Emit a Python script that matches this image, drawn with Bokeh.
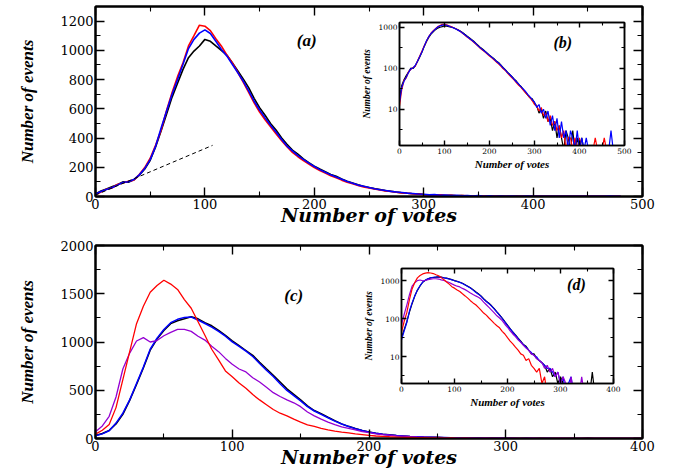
from bokeh.plotting import figure
from bokeh.models import (Range1d, LinearAxis, LogAxis, FixedTicker, Label, GridBox, Column,
                          CustomLabelingPolicy)
from bokeh.embed import file_html
from bokeh.resources import INLINE

# ---------------- data: panel (a)/(b) ----------------
votes_a = list(range(0, 485, 5))
blue_a = [15, 34, 48, 60, 78, 96, 101, 116, 148, 192, 252, 345, 468, 585, 700, 800, 905, 1012, 1075, 1118,
          1140, 1115, 1062, 1008, 962, 905, 848, 790, 722, 652, 592, 538, 488, 442, 392, 345, 312, 280, 254, 228,
          205, 184, 166, 148, 134, 118, 102, 91, 78, 70, 61, 53, 46, 41, 35, 31, 27, 23, 20, 17,
          15, 11, 13, 8, 10, 6, 9, 4, 7, 3, 6, 2, 5, 2, 3, 1, 3, 2, 1, 3,
          1, 2, 1, 2, 1, 1, 1, 1, 1, 1, 1, 1, 1, 1, 3, 1, 1]
red_a = [12, 30, 50, 58, 82, 92, 104, 112, 150, 198, 262, 352, 455, 590, 712, 820, 915, 1030, 1100, 1172,
         1165, 1135, 1080, 1030, 968, 915, 850, 782, 712, 640, 578, 525, 478, 430, 384, 340, 302, 272, 246, 222,
         198, 178, 160, 142, 128, 112, 98, 88, 76, 66, 58, 51, 44, 38, 34, 29, 25, 22, 19, 16,
         13, 12, 9, 11, 7, 8, 5, 7, 4, 5, 3, 4, 2, 3, 1, 2, 2, 1, 2, 1,
         2, 1, 1, 1, 1, 1, 1, 2, 1, 1, 1, 2, 1, 1, 1, 1, 1]
black_a = [18, 38, 52, 66, 80, 100, 98, 114, 145, 188, 248, 340, 450, 565, 680, 775, 870, 950, 995, 1030,
           1075, 1062, 1030, 1000, 968, 915, 860, 805, 745, 672, 608, 556, 500, 455, 402, 358, 318, 290, 258, 232,
           208, 188, 170, 150, 138, 120, 104, 92, 80, 70, 62, 54, 48, 40, 36, 30, 26, 22, 19, 18,
           14, 12, 8, 10, 6, 9, 5, 6, 3, 5, 2, 4, 2, 1, 3, 2, 1, 3, 1, 2,
           1, 2, 1, 1, 1, 1, 1, 1, 1, 1, 1, 1, 1, 1, 1, 1, 1]
dash_x = [0, 107]
dash_y = [10, 350]

# ---------------- data: panel (c)/(d) ----------------
votes_c = list(range(0, 405, 5))
red_c = [45, 85, 145, 320, 610, 900, 1190, 1370, 1515, 1585, 1640, 1600, 1545, 1440, 1350, 1210, 1070, 925, 815, 700,
         640, 575, 520, 455, 400, 350, 300, 262, 235, 200, 170, 142, 125, 105, 90, 76, 66, 58, 47, 40,
         32, 26, 22, 18, 15, 12, 11, 8, 9, 6, 5, 4, 5, 2, 3, 1, 1, 1, 1, 1,
         1, 1, 1, 1, 1, 1, 1, 1, 1, 1, 1, 1, 1, 1, 1, 1, 1, 1, 1, 1, 1]
purple_c = [70, 130, 230, 430, 720, 885, 1010, 1045, 1000, 1015, 1065, 1100, 1130, 1130, 1110, 1060, 1020, 955, 900, 830,
            770, 720, 690, 630, 585, 530, 475, 435, 400, 370, 330, 275, 235, 200, 170, 143, 120, 105, 90, 72,
            60, 48, 40, 34, 28, 24, 20, 17, 15, 12, 11, 9, 8, 7, 5, 6, 4, 5, 3, 4,
            2, 3, 2, 1, 3, 1, 2, 1, 3, 1, 1, 1, 1, 1, 1, 1, 1, 1, 1, 1, 1]
blue_c = [28, 48, 80, 160, 262, 400, 570, 740, 925, 1040, 1130, 1200, 1235, 1255, 1258, 1228, 1192, 1155, 1110, 1060,
          1002, 955, 905, 850, 778, 708, 642, 568, 498, 445, 390, 330, 285, 250, 215, 180, 150, 125, 102, 82,
          66, 54, 45, 37, 30, 25, 21, 18, 15, 13, 11, 10, 8, 7, 6, 5, 5, 4, 3, 4,
          2, 3, 1, 2, 3, 1, 2, 1, 1, 1, 1, 1, 1, 1, 1, 1, 1, 1, 1, 1, 1]
black_c = [32, 52, 84, 150, 250, 395, 560, 730, 915, 1030, 1120, 1190, 1220, 1240, 1262, 1240, 1200, 1168, 1120, 1068,
           1012, 962, 912, 862, 790, 722, 655, 585, 515, 458, 400, 338, 290, 258, 220, 185, 152, 126, 104, 84,
           68, 55, 45, 38, 31, 26, 21, 19, 15, 12, 12, 9, 8, 7, 6, 4, 5, 3, 4, 2,
           3, 2, 1, 2, 1, 2, 1, 1, 1, 1, 1, 1, 4, 1, 1, 1, 1, 1, 1, 1, 1]

SERIF = "DejaVu Serif"
TIMES = "Liberation Serif"


def style_axis(ax, ticks, minor, tin, tmin, lw, labels, fsize):
    ax.ticker = FixedTicker(ticks=ticks, minor_ticks=minor)
    ax.axis_line_width = lw
    ax.axis_line_color = "black"
    ax.major_tick_in = tin
    ax.major_tick_out = 0
    ax.minor_tick_in = tmin
    ax.minor_tick_out = 0
    ax.major_tick_line_width = 1.4
    ax.minor_tick_line_width = 1.1
    ax.major_tick_line_color = "black"
    ax.minor_tick_line_color = "black"
    ax.major_label_text_font = SERIF
    ax.major_label_text_color = "black"
    if labels:
        ax.major_label_text_font_size = fsize
        ax.major_label_standoff = 2
    else:
        ax.major_label_text_font_size = "1px"
        ax.major_label_standoff = 0
        ax.major_label_policy = CustomLabelingPolicy(code="return new Set()")


def main_fig(height, top, xmax, ymax, xt, xm, yt, ym):
    p = figure(width=670, height=height, output_backend="svg", toolbar_location=None,
               x_range=Range1d(0, xmax), y_range=Range1d(0, ymax),
               min_border_left=95, min_border_right=28, min_border_top=top, min_border_bottom=31)
    p.xgrid.visible = False
    p.ygrid.visible = False
    p.outline_line_color = "black"
    p.outline_line_width = 2
    p.background_fill_color = "white"
    p.border_fill_color = "white"
    xax = p.below[0]
    yax = p.left[0]
    style_axis(xax, xt, xm, 9, 5, 2, True, "13px")
    style_axis(yax, yt, ym, 9, 5, 2, True, "13px")
    top_ax = LinearAxis()
    style_axis(top_ax, xt, xm, 9, 5, 2, False, "13px")
    right_ax = LinearAxis()
    style_axis(right_ax, yt, ym, 9, 5, 2, False, "13px")
    p.add_layout(top_ax, "above")
    p.add_layout(right_ax, "right")
    xax.axis_label = "Number of votes"
    xax.axis_label_text_font = SERIF
    xax.axis_label_text_font_style = "bold italic"
    xax.axis_label_text_font_size = "19px"
    xax.axis_label_text_color = "black"
    xax.axis_label_standoff = -8
    yax.axis_label = "Number of events"
    yax.axis_label_text_font = TIMES
    yax.axis_label_text_font_style = "bold italic"
    yax.axis_label_text_font_size = "17px"
    yax.axis_label_text_color = "black"
    yax.axis_label_standoff = 20
    return p


def inset_fig(fw, fh, xmax, ylo, yhi):
    p = figure(width=39 + fw + 10, height=4 + fh + 24, output_backend="svg", toolbar_location=None,
               x_range=Range1d(0, xmax), y_range=Range1d(ylo, yhi), y_axis_type="log",
               min_border_left=39, min_border_right=10, min_border_top=4, min_border_bottom=24)
    p.xgrid.visible = False
    p.ygrid.visible = False
    p.outline_line_color = "black"
    p.outline_line_width = 1.5
    p.background_fill_color = "white"
    p.border_fill_alpha = 0
    xt = list(range(0, xmax + 1, 100))
    xm = list(range(50, xmax, 100))
    yt = [10, 100, 1000]
    ym = [3.162, 31.62, 316.2]
    xax = p.below[0]
    yax = p.left[0]
    style_axis(xax, xt, xm, 5, 3, 1.5, True, "7.5px")
    style_axis(yax, yt, ym, 5, 3, 1.5, True, "7.5px")
    yax.major_label_overrides = {10: "10", 100: "100", 1000: "1000"}
    top_ax = LinearAxis()
    style_axis(top_ax, xt, xm, 5, 3, 1.5, False, "7.5px")
    right_ax = LogAxis()
    style_axis(right_ax, yt, ym, 5, 3, 1.5, False, "7.5px")
    p.add_layout(top_ax, "above")
    p.add_layout(right_ax, "right")
    xax.axis_label = "Number of votes"
    xax.axis_label_text_font = TIMES
    xax.axis_label_text_font_style = "bold italic"
    xax.axis_label_text_font_size = "11px"
    xax.axis_label_text_color = "black"
    xax.axis_label_standoff = 1
    yax.axis_label = "Number of events"
    yax.axis_label_text_font = TIMES
    yax.axis_label_text_font_style = "bold italic"
    yax.axis_label_text_font_size = "9.5px"
    yax.axis_label_text_color = "black"
    yax.axis_label_standoff = 3
    return p


def panel_label(p, x, y, text, size):
    p.add_layout(Label(x=x, y=y, text=text, text_font=TIMES, text_font_style="bold italic",
                       text_font_size=size, text_align="center", text_baseline="middle",
                       text_color="black"))


RED = "#ff0000"
BLUE = "#0000ff"
BLACK = "#000000"
PURPLE = "#9400d3"

# ---------------- panel (a) ----------------
pa = main_fig(228, 6, 500, 1300,
              list(range(0, 501, 100)), list(range(50, 500, 100)),
              list(range(0, 1201, 200)), list(range(100, 1300, 200)))
pa.line(votes_a, black_a, color=BLACK, line_width=1.6)
pa.line(votes_a, red_a, color=RED, line_width=1.6)
pa.line(votes_a, blue_a, color=BLUE, line_width=1.6)
pa.line(dash_x, dash_y, color=BLACK, line_width=1, line_dash="4 3")
panel_label(pa, 193, 1070, "(a)", "17px")

# ---------------- inset (b) ----------------
pb = inset_fig(226, 126, 500, 1.3, 1300)
pb.line(votes_a, black_a, color=BLACK, line_width=1.2)
pb.line(votes_a, red_a, color=RED, line_width=1.2)
pb.line(votes_a, blue_a, color=BLUE, line_width=1.2)
panel_label(pb, 363, 433, "(b)", "16px")

# ---------------- panel (c) ----------------
pc = main_fig(242, 17, 400, 2000,
              list(range(0, 401, 100)), list(range(50, 400, 100)),
              list(range(0, 2001, 500)), list(range(250, 2000, 500)))
pc.line(votes_c, black_c, color=BLACK, line_width=1.5)
pc.line(votes_c, blue_c, color=BLUE, line_width=1.5)
pc.line(votes_c, purple_c, color=PURPLE, line_width=1.3)
pc.line(votes_c, red_c, color=RED, line_width=1.3)
panel_label(pc, 145, 1480, "(c)", "17px")

# ---------------- inset (d) ----------------
pd_ = inset_fig(213, 118, 400, 2, 2100)
pd_.line(votes_c, black_c, color=BLACK, line_width=1.2)
pd_.line(votes_c, blue_c, color=BLUE, line_width=1.2)
pd_.line(votes_c, purple_c, color=PURPLE, line_width=1.2)
pd_.line(votes_c, red_c, color=RED, line_width=1.2)
panel_label(pd_, 330, 776, "(d)", "16px")

box_b = Column(children=[pb], margin=(18, 0, 0, 359))
box_d = Column(children=[pd_], margin=(36, 0, 0, 361))

p = GridBox(children=[(pa, 0, 0), (box_b, 0, 0), (pc, 1, 0), (box_d, 1, 0)])

open("out.html", "w").write(file_html(p, INLINE))
